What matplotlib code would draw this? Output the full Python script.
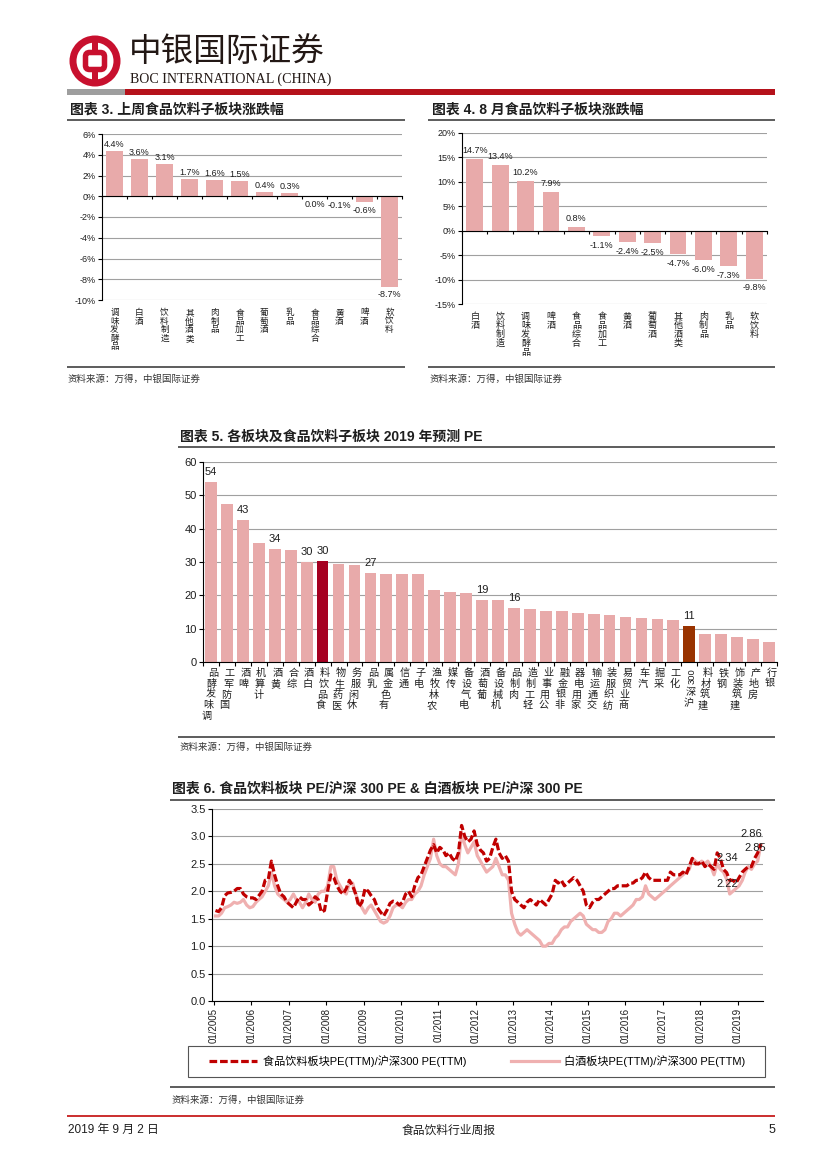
import re
import matplotlib
matplotlib.use('Agg')
import matplotlib.pyplot as plt
import matplotlib.dates as mdates
import numpy as np
import pandas as pd
from matplotlib.patches import Rectangle, Wedge, FancyBboxPatch
from matplotlib.lines import Line2D

W, H = 827, 1169
CJK = 'Noto Sans CJK SC'
LAT = 'Liberation Sans'
SERIF = 'Liberation Serif'
MIX = [LAT, CJK]
plt.rcParams['font.family'] = MIX
plt.rcParams['axes.unicode_minus'] = False

# ---------------- data ----------------
wk_cats = ['调味发酵品', '白酒', '饮料制造', '其他酒类', '肉制品', '食品加工',
           '葡萄酒', '乳品', '食品综合', '黄酒', '啤酒', '软饮料']
wk_vals = [4.4, 3.6, 3.1, 1.7, 1.6, 1.5, 0.4, 0.3, 0.0, -0.1, -0.6, -8.7]
wk_ticks = [6, 4, 2, 0, -2, -4, -6, -8, -10]

aug_cats = ['白酒', '饮料制造', '调味发酵品', '啤酒', '食品综合', '食品加工',
            '黄酒', '葡萄酒', '其他酒类', '肉制品', '乳品', '软饮料']
aug_vals = [14.7, 13.4, 10.2, 7.9, 0.8, -1.1, -2.4, -2.5, -4.7, -6.0, -7.3, -9.8]
aug_ticks = [20, 15, 10, 5, 0, -5, -10, -15]

pe_cats = ['调味发酵品', '国防军工', '啤酒', '计算机', '黄酒', '综合', '白酒', '食品饮料',
           '医药生物', '休闲服务', '乳品', '有色金属', '通信', '电子', '农林牧渔', '传媒',
           '电气设备', '葡萄酒', '机械设备', '肉制品', '轻工制造', '公用事业', '非银金融',
           '家用电器', '交通运输', '纺织服装', '商业贸易', '汽车', '采掘', '化工', '沪深300',
           '建筑材料', '钢铁', '建筑装饰', '房地产', '银行']
pe_vals = [54.0, 47.3, 42.7, 35.7, 34.0, 33.6, 30.1, 30.2, 29.5, 29.0, 26.6, 26.5,
           26.5, 26.3, 21.7, 21.1, 20.8, 18.7, 18.5, 16.2, 15.9, 15.3, 15.2, 14.6,
           14.5, 14.2, 13.6, 13.2, 12.8, 12.7, 10.9, 8.4, 8.4, 7.6, 6.8, 6.1]
pe_labeled = ['调味发酵品', '啤酒', '黄酒', '白酒', '食品饮料', '乳品', '葡萄酒', '肉制品', '沪深300']
pe_colors = {'食品饮料': '#A50021', '沪深300': '#993300'}
pe_ticks = [0, 10, 20, 30, 40, 50, 60]

# monthly readings, Jan 2005 .. Aug 2019
food_pe = [
    1.65, 1.63, 1.70, 1.92, 1.97, 1.98, 2.00, 2.05, 2.05, 1.95, 1.90, 1.88,   # 2005
    1.88, 1.85, 1.92, 2.00, 2.20, 2.22, 2.55, 2.30, 2.10, 1.95, 1.90, 1.80,   # 2006
    1.75, 1.70, 1.80, 1.90, 1.85, 1.85, 1.75, 1.80, 1.90, 1.85, 1.62, 1.65,   # 2007
    2.00, 2.30, 2.25, 2.10, 2.00, 1.95, 2.05, 2.20, 2.10, 1.95, 1.72, 1.80,   # 2008
    2.05, 2.00, 1.92, 1.85, 1.70, 1.62, 1.55, 1.65, 1.78, 1.82, 1.80, 1.75,   # 2009
    1.80, 1.95, 2.00, 1.90, 2.10, 2.25, 2.30, 2.45, 2.60, 2.75, 2.85, 2.70,   # 2010
    2.80, 2.75, 2.65, 2.70, 2.60, 2.55, 2.70, 3.20, 3.00, 2.90, 2.95, 3.10,   # 2011
    2.85, 2.75, 2.70, 2.55, 2.60, 2.80, 2.95, 2.70, 2.60, 2.65, 2.55, 2.00,   # 2012
    1.85, 1.80, 1.75, 1.70, 1.80, 1.85, 1.80, 1.75, 1.85, 1.80, 1.75, 1.85,   # 2013
    1.95, 2.20, 2.15, 2.20, 2.10, 2.15, 2.20, 2.25, 2.20, 2.10, 2.00, 1.75,   # 2014
    1.70, 1.80, 1.85, 1.85, 1.90, 1.95, 2.00, 2.05, 2.05, 2.10, 2.10, 2.10,   # 2015
    2.10, 2.15, 2.15, 2.20, 2.20, 2.25, 2.35, 2.25, 2.20, 2.20, 2.20, 2.20,   # 2016
    2.20, 2.20, 2.35, 2.30, 2.30, 2.30, 2.35, 2.30, 2.45, 2.60, 2.50, 2.50,   # 2017
    2.55, 2.45, 2.50, 2.45, 2.40, 2.70, 2.60, 2.40, 2.34, 2.20, 2.20, 2.15,   # 2018
    2.25, 2.35, 2.40, 2.45, 2.45, 2.60, 2.70, 2.86,                           # 2019
]
baijiu_pe = [
    1.55, 1.55, 1.60, 1.70, 1.72, 1.75, 1.80, 1.78, 1.80, 1.85, 1.75, 1.70,   # 2005
    1.72, 1.80, 1.85, 1.90, 2.00, 2.10, 2.35, 2.10, 1.95, 1.90, 1.85, 1.80,   # 2006
    1.85, 1.95, 1.85, 1.80, 1.70, 1.80, 1.95, 1.85, 1.80, 1.95, 2.00, 2.00,   # 2007
    2.10, 2.45, 2.45, 2.20, 2.10, 2.00, 1.95, 2.15, 2.15, 1.95, 1.80, 1.70,   # 2008
    1.60, 1.70, 1.75, 1.65, 1.55, 1.45, 1.42, 1.45, 1.55, 1.70, 1.75, 1.75,   # 2009
    1.70, 1.80, 1.85, 1.85, 1.95, 2.00, 2.10, 2.30, 2.45, 2.60, 2.95, 2.65,   # 2010
    2.50, 2.45, 2.45, 2.40, 2.35, 2.30, 2.50, 3.05, 2.85, 2.70, 2.80, 2.90,   # 2011
    2.65, 2.55, 2.45, 2.35, 2.40, 2.45, 2.60, 2.45, 2.30, 2.30, 2.20, 1.60,   # 2012
    1.40, 1.25, 1.20, 1.25, 1.30, 1.25, 1.20, 1.15, 1.10, 1.00, 1.00, 1.05,   # 2013
    1.05, 1.15, 1.20, 1.30, 1.35, 1.35, 1.45, 1.50, 1.55, 1.60, 1.55, 1.40,   # 2014
    1.35, 1.30, 1.30, 1.25, 1.25, 1.30, 1.45, 1.50, 1.60, 1.60, 1.55, 1.60,   # 2015
    1.65, 1.70, 1.75, 1.85, 1.85, 1.90, 2.10, 1.95, 1.90, 1.85, 1.90, 1.95,   # 2016
    2.00, 2.05, 2.10, 2.15, 2.20, 2.25, 2.30, 2.35, 2.40, 2.60, 2.55, 2.50,   # 2017
    2.55, 2.50, 2.55, 2.45, 2.30, 2.50, 2.40, 2.35, 2.22, 1.95, 2.00, 2.05,   # 2018
    2.10, 2.20, 2.35, 2.45, 2.40, 2.50, 2.55, 2.85,                           # 2019
]
pe_ratio_ticks = [0.0, 0.5, 1.0, 1.5, 2.0, 2.5, 3.0, 3.5]
ann_texts = ['2.86', '2.85', '2.34', '2.22']
ann_dates = ['2019-05-10', '2019-06-25', '2018-09-25', '2018-09-25']
ann_vals = [3.04, 2.79, 2.60, 2.13]

food_label = '食品饮料板块PE(TTM)/沪深300 PE(TTM)'
baijiu_label = '白酒板块PE(TTM)/沪深300 PE(TTM)'
src_text = '资料来源：万得，中银国际证券'

# ---------------- style ----------------
PINK = '#E8AAAA'
GRID = '#A0A0A0'
DARK = '#1E1E1E'
RED = '#C00000'
LINE = '#606060'
PT = 72 / 100.0  # points per pixel

fig = plt.figure(figsize=(W / 100, H / 100), dpi=100)
bg = fig.add_axes([0, 0, 1, 1])
bg.set_xlim(0, W)
bg.set_ylim(H, 0)
bg.axis('off')


def add_ax(x0, y0, x1, y1):
    ax = fig.add_axes([x0 / W, 1 - y1 / H, (x1 - x0) / W, (y1 - y0) / H])
    ax.set_facecolor('none')
    return ax


def hline(y, x0, x1, color=LINE, lw_px=2):
    bg.add_line(Line2D([x0, x1], [y, y], color=color, lw=lw_px * PT, solid_capstyle='butt'))


def vlabels(ax, cats, size, pad_px, step_px, upward=False, dx0=0.0, ddx=0.0):
    for i, lab in enumerate(cats):
        toks = re.findall(r'[0-9A-Za-z]+|.', lab)
        if upward:
            toks = toks[::-1]
        yoff = pad_px
        for k, tk in enumerate(toks):
            dx = dx0 + ddx * k
            if tk.isascii():
                ax.annotate(tk, xy=(i, 0), xycoords=('data', 'axes fraction'),
                            xytext=(dx * PT, -yoff * PT), textcoords='offset points',
                            ha='center', va='top', rotation=90, fontsize=size - 0.5,
                            family=LAT, color=DARK, annotation_clip=False)
                yoff += len(tk) * size * 0.56 / PT + 2
            else:
                ax.annotate(tk, xy=(i, 0), xycoords=('data', 'axes fraction'),
                            xytext=(dx * PT, -yoff * PT), textcoords='offset points',
                            ha='center', va='top', fontsize=size, family=CJK,
                            color=DARK, annotation_clip=False)
                yoff += step_px


def style_bar_axes(ax, ticks, fmt, fs):
    ax.set_yticks(ticks)
    ax.set_yticklabels([fmt(t) for t in ticks], fontsize=fs, family=LAT, color=DARK)
    ax.yaxis.grid(True, color=GRID, lw=0.8)
    ax.set_axisbelow(True)
    for s in ['top', 'right']:
        ax.spines[s].set_visible(False)
    ax.spines['left'].set_linewidth(0.8)
    ax.spines['bottom'].set_linewidth(0.8)
    ax.tick_params(axis='y', length=3, width=0.8, pad=1.5)


# ---------------- header ----------------
LOGO_RED = '#C8102E'
cx, cy = 95, 61
bg.add_patch(Wedge((cx, cy), 25.5, 0, 360, width=7, color=LOGO_RED, lw=0))
bg.add_patch(Rectangle((cx - 3.2, cy - 20), 6.4, 40, color=LOGO_RED, lw=0))
bg.add_patch(FancyBboxPatch((cx - 9.5, cy - 8.5), 19, 17,
                            boxstyle='round,pad=0,rounding_size=4',
                            fc='white', ec=LOGO_RED, lw=5.5 * PT))
bg.text(129, 52, '中银国际证券', family=CJK, fontsize=23.5, color='#231815',
        ha='left', va='center', fontweight='light')
bg.text(130, 79.5, 'BOC INTERNATIONAL (CHINA)', family=SERIF, fontsize=10.1,
        color='#231815', ha='left', va='center')
bg.add_patch(Rectangle((67, 89), 58, 5.5, color='#9E9E9E', lw=0))
bg.add_patch(Rectangle((125, 89), 650, 5.5, color='#B5121B', lw=0))

# ---------------- titles / separators ----------------
TFS = 10
bg.text(70, 110, '图表 3. 上周食品饮料子板块涨跌幅', fontsize=TFS, fontweight='bold',
        ha='left', va='center', color=DARK)
bg.text(432, 110, '图表 4. 8 月食品饮料子板块涨跌幅', fontsize=TFS, fontweight='bold',
        ha='left', va='center', color=DARK)
hline(120, 67, 405)
hline(120, 428, 775)
hline(367, 67, 405)
hline(367, 428, 775)
bg.text(68, 379, src_text, family=CJK, fontsize=6.8, color='#333333', ha='left',
        va='center', style='italic')
bg.text(430, 379, src_text, family=CJK, fontsize=6.8, color='#333333', ha='left',
        va='center', style='italic')

bg.text(180, 437, '图表 5. 各板块及食品饮料子板块 2019 年预测 PE', fontsize=TFS,
        fontweight='bold', ha='left', va='center', color=DARK)
hline(447, 178, 775)
hline(737, 178, 775)
bg.text(180, 747, src_text, family=CJK, fontsize=6.8, color='#333333', ha='left',
        va='center', style='italic')

bg.text(172, 789, '图表 6. 食品饮料板块 PE/沪深 300 PE & 白酒板块 PE/沪深 300 PE',
        fontsize=TFS, fontweight='bold', ha='left', va='center', color=DARK)
hline(800, 170, 775)
hline(1087, 170, 775)
bg.text(172, 1100, src_text, family=CJK, fontsize=6.8, color='#333333', ha='left',
        va='center', style='italic')

# footer
hline(1116, 67, 775, color=RED, lw_px=1.6)
bg.text(68, 1130, '2019 年 9 月 2 日', fontsize=8.5, ha='left', va='center', color=DARK)
bg.text(449, 1130, '食品饮料行业周报', family=CJK, fontsize=8.5, ha='center',
        va='center', color=DARK)
bg.text(775, 1130, '5', fontsize=9, ha='right', va='center', color=DARK)

# ---------------- chart 3 ----------------
ax3 = add_ax(102, 134, 402, 300)
x3 = np.arange(len(wk_cats))
ax3.bar(x3, wk_vals, width=0.68, color=PINK, zorder=2)
ax3.set_xlim(-0.5, len(wk_cats) - 0.5)
ax3.set_ylim(-10, 6)
style_bar_axes(ax3, wk_ticks, lambda t: f'{t}%', 6.5)
ax3.spines['bottom'].set_position(('data', 0))
ax3.set_xticks(np.arange(len(wk_cats) + 1) - 0.5)
ax3.tick_params(axis='x', length=2.5, width=0.8, labelbottom=False)
for i, v in enumerate(wk_vals):
    if v > 0:
        ax3.annotate(f'{v:.1f}%', (i, v), xytext=(0, 1.2), textcoords='offset points',
                     ha='center', va='bottom', fontsize=6.5, family=LAT, color=DARK)
    else:
        ax3.annotate(f'{v:.1f}%', (i, v), xytext=(0, -2.5), textcoords='offset points',
                     ha='center', va='top', fontsize=6.5, family=LAT, color=DARK)
vlabels(ax3, wk_cats, 6.2, 8, 8.6)

# ---------------- chart 4 ----------------
ax4 = add_ax(462, 133, 767, 304)
x4 = np.arange(len(aug_cats))
ax4.bar(x4, aug_vals, width=0.66, color=PINK, zorder=2)
ax4.set_xlim(-0.5, len(aug_cats) - 0.5)
ax4.set_ylim(-15, 20)
style_bar_axes(ax4, aug_ticks, lambda t: f'{t}%', 6.5)
ax4.spines['bottom'].set_position(('data', 0))
ax4.set_xticks(np.arange(len(aug_cats) + 1) - 0.5)
ax4.tick_params(axis='x', length=2.5, width=0.8, labelbottom=False)
for i, v in enumerate(aug_vals):
    if v > 0:
        ax4.annotate(f'{v:.1f}%', (i, v), xytext=(0, 3), textcoords='offset points',
                     ha='center', va='bottom', fontsize=6.5, family=LAT, color=DARK)
    else:
        ax4.annotate(f'{v:.1f}%', (i, v), xytext=(0, -3.5), textcoords='offset points',
                     ha='center', va='top', fontsize=6.5, family=LAT, color=DARK)
vlabels(ax4, aug_cats, 6.5, 8, 9.0)

# ---------------- chart 5 ----------------
ax5 = add_ax(203, 462, 777, 662)
x5 = np.arange(len(pe_cats))
cols5 = [pe_colors.get(c, PINK) for c in pe_cats]
ax5.bar(x5, pe_vals, width=0.74, color=cols5, zorder=2)
ax5.set_xlim(-0.5, len(pe_cats) - 0.5)
ax5.set_ylim(0, 60)
style_bar_axes(ax5, pe_ticks, lambda t: f'{t}', 8)
ax5.set_xticks(np.arange(len(pe_cats) + 1) - 0.5)
ax5.tick_params(axis='x', length=3, width=0.8, labelbottom=False)
for i, (c, v) in enumerate(zip(pe_cats, pe_vals)):
    if c in pe_labeled:
        ax5.annotate(f'{round(v)}', (i, v), xytext=(0, 3.5), textcoords='offset points',
                     ha='center', va='bottom', fontsize=8, family=LAT, color=DARK)
vlabels(ax5, pe_cats, 7.3, 6, 10.8, upward=True, dx0=2.5, ddx=-1.6)

# ---------------- chart 6 ----------------
ax6 = add_ax(212, 809, 763, 1001)
dates = pd.date_range('2005-01-01', periods=len(food_pe), freq='MS') + pd.Timedelta(days=14)
l1, = ax6.plot(dates, food_pe, color=RED, lw=2.3, ls=(0, (2.4, 0.9)), zorder=3)
l2, = ax6.plot(dates, baijiu_pe, color='#EFB0B0', lw=2.3, zorder=2)
ax6.set_xlim(pd.Timestamp('2004-12-12'), pd.Timestamp('2019-09-05'))
ax6.set_ylim(0, 3.5)
ax6.set_yticks(pe_ratio_ticks)
ax6.set_yticklabels([f'{t:.1f}' for t in pe_ratio_ticks], fontsize=8, family=LAT, color=DARK)
ax6.yaxis.grid(True, color=GRID, lw=0.8)
ax6.set_axisbelow(True)
for s in ['top', 'right']:
    ax6.spines[s].set_visible(False)
ax6.spines['left'].set_linewidth(0.8)
ax6.spines['bottom'].set_linewidth(0.8)
ax6.xaxis.set_major_locator(mdates.YearLocator(1, month=1, day=1))
ax6.xaxis.set_major_formatter(mdates.DateFormatter('%m/%Y'))
ax6.tick_params(axis='x', length=3, width=0.8, pad=2, labelsize=7, labelcolor=DARK)
ax6.tick_params(axis='y', length=3, width=0.8, pad=1.5)
for lab in ax6.get_xticklabels():
    lab.set_rotation(90)
    lab.set_family(LAT)
for t, d, v in zip(ann_texts, ann_dates, ann_vals):
    ax6.text(pd.Timestamp(d), v, t, ha='center', va='center', fontsize=8, family=LAT,
             color=DARK, zorder=5)

bg.add_patch(Rectangle((188, 1046), 577, 31, fill=False, ec='#555555', lw=0.8))
x0f, y0f = 205 / W, 1 - 1077 / H
leg = ax6.legend([l1, l2], [food_label, baijiu_label], loc='center',
                 bbox_to_anchor=(x0f, y0f, 545 / W, 31 / H), bbox_transform=fig.transFigure,
                 mode='expand', ncol=2, frameon=False, handlelength=4.3,
                 handletextpad=0.5, borderaxespad=0, prop={'family': MIX, 'size': 8})

fig.savefig('out.png', dpi=100)
